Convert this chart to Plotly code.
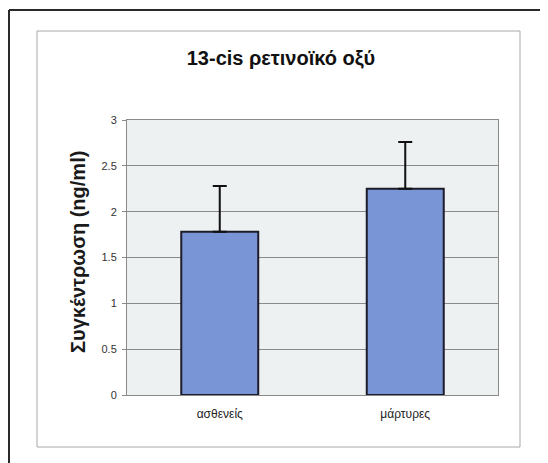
import plotly.graph_objects as go

categories = ["ασθενείς", "μάρτυρες"]
means = [1.78, 2.25]
errors = [0.50, 0.51]
y_ticks = [0, 0.5, 1, 1.5, 2, 2.5, 3]
y_tick_labels = ["0", "0.5", "1", "1.5", "2", "2.5", "3"]

# The page body has an 8px default margin, so shift everything by it.
OFF = 8
W, H = 548 - OFF, 463 - OFF
L, R, T, B = 127 - OFF, 498 - OFF, 120 - OFF, 395 - OFF  # plot area (figure px)

def px(x):
    return (x - OFF - L) / (R - L)

def py(y):
    return (B - (y - OFF)) / (B - T)

FONT = "Liberation Sans, Arial, sans-serif"

fig = go.Figure()
fig.add_trace(go.Bar(
    x=categories, y=means,
    width=0.415,
    marker=dict(color="#7A95D5", line=dict(color="#1c1c2a", width=2)),
    error_y=dict(type="data", array=errors, symmetric=False, arrayminus=[0, 0],
                 color="#111111", thickness=2, width=7),
))

shapes = [
    # inner chart-area frame
    dict(type="rect", xref="paper", yref="paper", x0=px(37), x1=px(520), y0=py(447), y1=py(31),
         line=dict(color="#A8A8A8", width=1), layer="below"),
    # outer black frame (top and left visible)
    dict(type="line", xref="paper", yref="paper", x0=px(9), x1=px(560), y0=py(10), y1=py(10),
         line=dict(color="#2a2a2a", width=2)),
    dict(type="line", xref="paper", yref="paper", x0=px(9), x1=px(9), y0=py(10), y1=py(470),
         line=dict(color="#2a2a2a", width=2)),
]

annotations = [
    dict(text="<b>Συγκέντρωση (ng/ml)</b>", xref="paper", yref="paper",
         x=px(78), y=py(252), xanchor="center", yanchor="middle", textangle=-90,
         showarrow=False, font=dict(family=FONT, size=20, color="#1a1a1a")),
]

fig.update_layout(
    width=W, height=H,
    margin=dict(l=L, r=W - R, t=T, b=H - B, pad=0),
    paper_bgcolor="white",
    plot_bgcolor="#EDF1F1",
    showlegend=False,
    title=dict(text="<b>13-cis ρετινοϊκό οξύ</b>", x=(281 - OFF) / W, y=1 - (58 - OFF) / H,
               xanchor="center", yanchor="middle",
               font=dict(family=FONT, size=20, color="#111111")),
    shapes=shapes,
    annotations=annotations,
)
fig.update_yaxes(
    range=[0, 3], tickvals=y_ticks, ticktext=y_tick_labels,
    showgrid=True, gridcolor="#8a8a8a", gridwidth=1,
    showline=True, linecolor="#8a8a8a", linewidth=1, mirror=True,
    ticks="outside", ticklen=4, tickcolor="#8a8a8a",
    tickfont=dict(family=FONT, size=11, color="#333333"),
    ticklabelstandoff=3,
    zeroline=False, fixedrange=True,
)
fig.update_xaxes(
    showline=True, linecolor="#8a8a8a", linewidth=1, mirror=True,
    ticks="", tickfont=dict(family=FONT, size=12, color="#222222"),
    ticklabelstandoff=8,
    fixedrange=True,
)

fig.write_html("out.html")
